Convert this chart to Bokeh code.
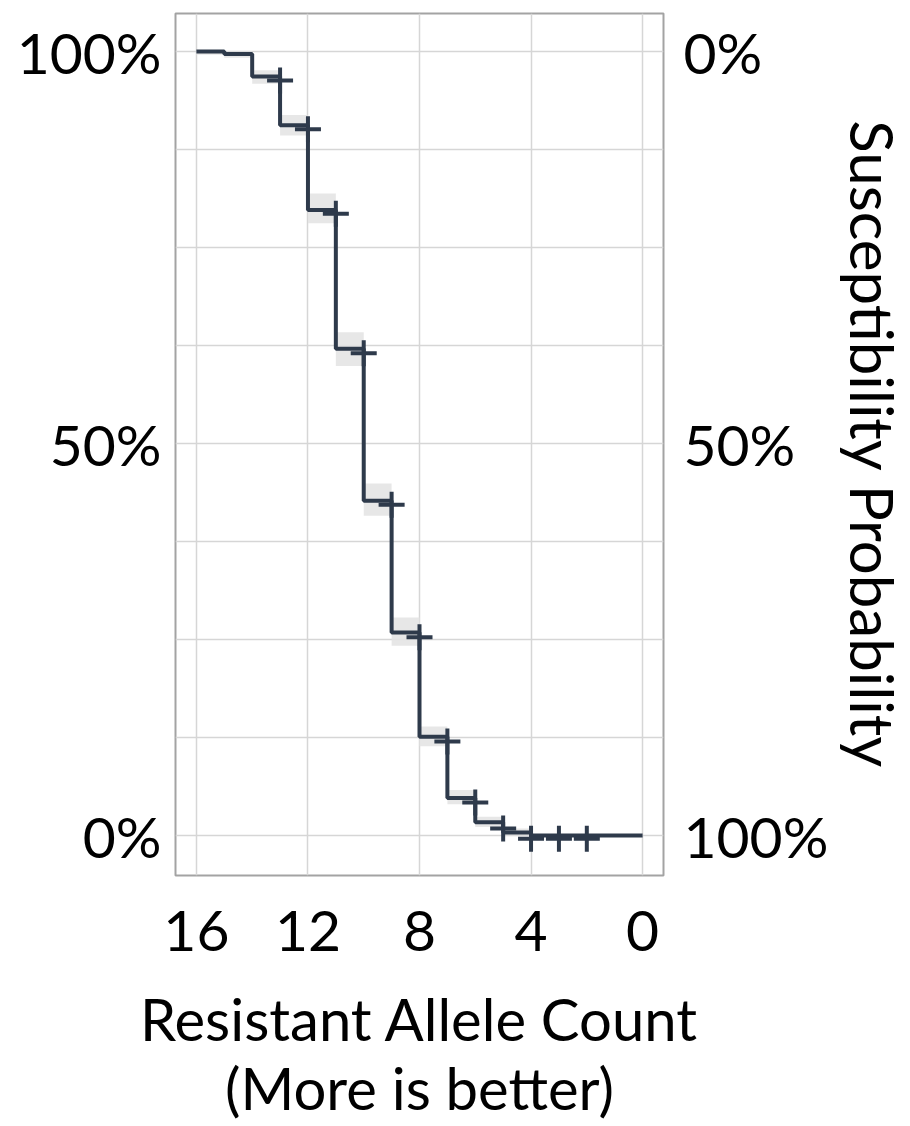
from bokeh.plotting import figure
from bokeh.models import Range1d, FixedTicker, LinearAxis
from bokeh.embed import file_html
from bokeh.resources import INLINE

# ---- data ----
allele_count = [16, 15, 14, 13, 12, 11, 10, 9, 8, 7, 6, 5, 4, 0]
survival_pct = [100, 99.7, 96.8, 90.6, 79.8, 62.1, 42.7, 25.9, 12.6, 4.8, 1.7, 0.4, 0, 0]
band_low = [99.6, 99.2, 95.9, 89.3, 78.1, 59.9, 40.8, 24.2, 11.4, 4.0, 1.1, 0.0, 0.0, 0.0]
band_high = [100, 100, 97.6, 91.9, 81.9, 64.2, 44.9, 27.8, 13.9, 5.8, 2.4, 0.9, 0.2, 0.2]
censor_count = [13, 12, 11, 10, 9, 8, 7, 6, 5, 4, 3, 2]
censor_pct = [96.3, 90.1, 79.3, 61.5, 42.2, 25.3, 12.0, 4.2, 0.9, -0.4, -0.4, -0.4]
x_ticks = [16, 12, 8, 4, 0]
y_ticks = [0, 50, 100]
left_labels = {0: "0%", 50: "50%", 100: "100%"}
right_labels = {0: "100%", 50: "50%", 100: "0%"}
y_grid = [0, 12.5, 25, 37.5, 50, 62.5, 75, 87.5, 100]

FONT = "Lato"
FS = "57px"
LINE = "#2e3a4b"

p = figure(frame_width=488, frame_height=862,
           min_border_left=175, min_border_right=231,
           min_border_top=13, min_border_bottom=245,
           x_range=Range1d(16.75, -0.75), y_range=Range1d(-5.1, 104.85),
           output_backend="svg", toolbar_location=None,
           background_fill_color="white", border_fill_color="white")

p.outline_line_color = "#a3a3a3"
p.outline_line_width = 2

p.xgrid.ticker = FixedTicker(ticks=x_ticks)
p.ygrid.ticker = FixedTicker(ticks=y_grid)
for g in (p.xgrid, p.ygrid):
    g.grid_line_color = "#d6d6d6"
    g.grid_line_width = 1.5

# confidence band
p.varea_step(x=allele_count, y1=band_low, y2=band_high, step_mode="after",
             fill_color="#e4e4e4", fill_alpha=0.9)
# survival step
p.step(x=allele_count, y=survival_pct, mode="after", line_color=LINE, line_width=4)
# censor marks
p.scatter(x=censor_count, y=censor_pct, marker="cross", size=26,
          line_color=LINE, line_width=4)

def style(ax):
    ax.axis_line_color = None
    ax.major_tick_line_color = None
    ax.minor_tick_line_color = None
    ax.major_tick_in = 0
    ax.major_tick_out = 0
    ax.minor_tick_in = 0
    ax.minor_tick_out = 0
    ax.major_label_text_font = FONT
    ax.major_label_text_font_size = FS
    ax.major_label_text_color = "black"
    ax.axis_label_text_font = FONT
    ax.axis_label_text_font_size = FS
    ax.axis_label_text_font_style = "normal"
    ax.axis_label_text_color = "black"

# bottom axis
xa = p.xaxis[0]
xa.ticker = FixedTicker(ticks=x_ticks)
xa.axis_label = "Resistant Allele Count\n(More is better)"
style(xa)
xa.axis_label_text_font_size = "58px"
xa.axis_label_text_line_height = 1.0
xa.major_label_standoff = 35
xa.axis_label_standoff = 30

# left axis
ya = p.yaxis[0]
ya.ticker = FixedTicker(ticks=y_ticks)
ya.major_label_overrides = left_labels
style(ya)
ya.major_label_standoff = 14

# right axis
ra = LinearAxis(ticker=FixedTicker(ticks=y_ticks), major_label_overrides=right_labels,
                axis_label="Susceptibility Probability")
style(ra)
ra.axis_label_text_font_size = "60px"
ra.major_label_standoff = 20
ra.axis_label_standoff = 6
p.add_layout(ra, "right")

open("out.html", "w").write(file_html(p, INLINE))
